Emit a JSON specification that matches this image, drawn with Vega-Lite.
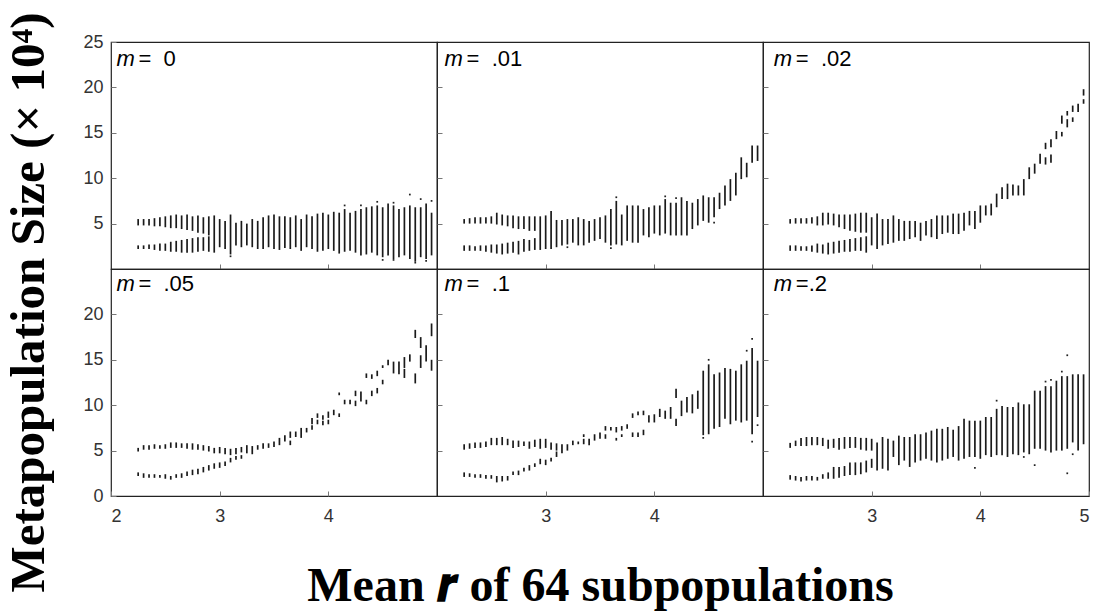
{
  "$schema": "https://vega.github.io/schema/vega-lite/v6.json",
  "background": "white",
  "padding": {"left": 5, "top": 12, "right": 0, "bottom": 0},
  "title": {"text": "Metapopulation Size (× 10⁴)", "orient": "left", "anchor": "middle", "font": "Liberation Serif", "fontSize": 49, "fontWeight": "bold", "color": "black", "offset": 28, "dx": 19},
  "spacing": 0,
  "bounds": "flush",
  "columns": 3,
  "config": {
    "view": {"stroke": "#222", "strokeWidth": 1.2},
    "axis": {"domain": false, "grid": false, "tickSize": -5, "tickColor": "#777", "tickWidth": 1, "labelFont": "Liberation Sans", "labelFontSize": 18, "labelColor": "#333", "labelPadding": 13, "format": "d"},
    "axisX": {"labelPadding": 16},
    "text": {"font": "Liberation Sans", "fontSize": 22, "color": "black"}
  },
  "datasets": {
    "labels": [
      {"m": "0", "lab": "=\u00a0\u00a00"},
      {"m": ".01", "lab": "=\u00a0\u00a0.01"},
      {"m": ".02", "lab": "=\u00a0\u00a0.02"},
      {"m": ".05", "lab": "=\u00a0\u00a0.05"},
      {"m": ".1", "lab": "=\u00a0\u00a0.1"},
      {"m": ".2", "lab": "=.2"}
    ],
    "dots": [
      {"m": "0", "r": 4.45, "lo": 7.4}, {"m": "0", "r": 4.75, "lo": 8.2}, {"m": "0", "r": 4.85, "lo": 7.7}, {"m": "0", "r": 4.95, "lo": 7.5}, {"m": "0", "r": 4.6, "lo": 7.3}, {"m": "0", "r": 4.3, "lo": 7.0}, {"m": "0", "r": 4.8, "lo": 0.7}, {"m": "0", "r": 4.6, "lo": 1.0}, {"m": "0", "r": 4.9, "lo": 0.9}, {"m": "0", "r": 4.15, "lo": 7.0}, {"m": "0", "r": 3.1, "lo": 1.4}, {"m": "0", "r": 4.5, "lo": 1.0},
      {"m": ".01", "r": 3.65, "lo": 7.9}, {"m": ".01", "r": 4.1, "lo": 8.0}, {"m": ".01", "r": 4.2, "lo": 7.8}, {"m": ".01", "r": 4.55, "lo": 5.1}, {"m": ".01", "r": 3.6, "lo": 2.3}, {"m": ".01", "r": 3.2, "lo": 2.4},
      {"m": ".1", "r": 4.9, "lo": 17.3}, {"m": ".1", "r": 4.9, "lo": 6.0}, {"m": ".1", "r": 4.85, "lo": 16.0}, {"m": ".1", "r": 4.5, "lo": 15.0}, {"m": ".1", "r": 4.45, "lo": 6.4}, {"m": ".1", "r": 4.95, "lo": 7.8},
      {"m": ".2", "r": 4.8, "lo": 15.5}, {"m": ".2", "r": 4.8, "lo": 2.5}, {"m": ".2", "r": 4.5, "lo": 3.4}, {"m": ".2", "r": 4.4, "lo": 4.3}, {"m": ".2", "r": 4.6, "lo": 12.6}, {"m": ".2", "r": 4.65, "lo": 12.8}, {"m": ".2", "r": 4.75, "lo": 13.7}, {"m": ".2", "r": 3.95, "lo": 3.1}, {"m": ".2", "r": 4.15, "lo": 10.5}, {"m": ".2", "r": 4.85, "lo": 4.6}
    ],
    "segs": [
      {"m": "0", "r": 2.25, "lo": 4.8, "hi": 5.5}, {"m": "0", "r": 2.25, "lo": 2.2, "hi": 2.6},
      {"m": "0", "r": 2.30, "lo": 4.8, "hi": 5.5}, {"m": "0", "r": 2.30, "lo": 2.2, "hi": 2.6},
      {"m": "0", "r": 2.35, "lo": 4.8, "hi": 5.5}, {"m": "0", "r": 2.35, "lo": 2.2, "hi": 2.7},
      {"m": "0", "r": 2.40, "lo": 4.7, "hi": 5.6}, {"m": "0", "r": 2.40, "lo": 2.1, "hi": 2.7},
      {"m": "0", "r": 2.45, "lo": 4.7, "hi": 5.7}, {"m": "0", "r": 2.45, "lo": 2.0, "hi": 2.8},
      {"m": "0", "r": 2.50, "lo": 4.6, "hi": 5.8}, {"m": "0", "r": 2.50, "lo": 2.0, "hi": 2.8},
      {"m": "0", "r": 2.55, "lo": 4.5, "hi": 5.9}, {"m": "0", "r": 2.55, "lo": 1.9, "hi": 3.0},
      {"m": "0", "r": 2.60, "lo": 4.5, "hi": 6.0}, {"m": "0", "r": 2.60, "lo": 1.9, "hi": 3.1},
      {"m": "0", "r": 2.65, "lo": 4.4, "hi": 5.9}, {"m": "0", "r": 2.65, "lo": 1.8, "hi": 3.2},
      {"m": "0", "r": 2.70, "lo": 4.3, "hi": 6.0}, {"m": "0", "r": 2.70, "lo": 1.8, "hi": 3.3},
      {"m": "0", "r": 2.75, "lo": 4.2, "hi": 5.8}, {"m": "0", "r": 2.75, "lo": 1.8, "hi": 3.4},
      {"m": "0", "r": 2.80, "lo": 4.0, "hi": 5.9}, {"m": "0", "r": 2.80, "lo": 1.9, "hi": 3.5},
      {"m": "0", "r": 2.85, "lo": 3.9, "hi": 5.7}, {"m": "0", "r": 2.85, "lo": 2.0, "hi": 3.5},
      {"m": "0", "r": 2.90, "lo": 3.7, "hi": 5.8}, {"m": "0", "r": 2.90, "lo": 1.9, "hi": 3.6},
      {"m": "0", "r": 2.95, "lo": 1.8, "hi": 5.9}, {"m": "0", "r": 3.00, "lo": 2.4, "hi": 5.5},
      {"m": "0", "r": 3.05, "lo": 2.2, "hi": 5.3}, {"m": "0", "r": 3.10, "lo": 1.6, "hi": 6.0},
      {"m": "0", "r": 3.15, "lo": 2.6, "hi": 5.1}, {"m": "0", "r": 3.20, "lo": 2.4, "hi": 5.3},
      {"m": "0", "r": 3.25, "lo": 2.6, "hi": 5.0}, {"m": "0", "r": 3.30, "lo": 2.4, "hi": 5.5},
      {"m": "0", "r": 3.35, "lo": 2.2, "hi": 5.3}, {"m": "0", "r": 3.40, "lo": 2.2, "hi": 5.7},
      {"m": "0", "r": 3.45, "lo": 2.4, "hi": 5.9}, {"m": "0", "r": 3.50, "lo": 2.2, "hi": 6.0},
      {"m": "0", "r": 3.55, "lo": 2.1, "hi": 5.8}, {"m": "0", "r": 3.60, "lo": 2.3, "hi": 5.8},
      {"m": "0", "r": 3.65, "lo": 2.2, "hi": 5.7}, {"m": "0", "r": 3.70, "lo": 2.4, "hi": 5.9},
      {"m": "0", "r": 3.75, "lo": 2.0, "hi": 5.5}, {"m": "0", "r": 3.80, "lo": 2.4, "hi": 6.0},
      {"m": "0", "r": 3.85, "lo": 2.2, "hi": 5.8}, {"m": "0", "r": 3.90, "lo": 1.9, "hi": 6.1},
      {"m": "0", "r": 3.95, "lo": 2.0, "hi": 6.2}, {"m": "0", "r": 4.00, "lo": 2.2, "hi": 6.0},
      {"m": "0", "r": 4.05, "lo": 2.0, "hi": 6.3}, {"m": "0", "r": 4.10, "lo": 1.7, "hi": 6.2},
      {"m": "0", "r": 4.15, "lo": 1.9, "hi": 6.6}, {"m": "0", "r": 4.20, "lo": 2.0, "hi": 6.2},
      {"m": "0", "r": 4.25, "lo": 1.8, "hi": 6.4}, {"m": "0", "r": 4.30, "lo": 1.5, "hi": 6.6},
      {"m": "0", "r": 4.35, "lo": 1.6, "hi": 6.8}, {"m": "0", "r": 4.40, "lo": 1.8, "hi": 6.9},
      {"m": "0", "r": 4.45, "lo": 1.5, "hi": 7.0}, {"m": "0", "r": 4.50, "lo": 1.3, "hi": 6.8},
      {"m": "0", "r": 4.55, "lo": 1.5, "hi": 7.2}, {"m": "0", "r": 4.60, "lo": 1.1, "hi": 7.0},
      {"m": "0", "r": 4.65, "lo": 1.3, "hi": 6.6}, {"m": "0", "r": 4.70, "lo": 1.5, "hi": 6.8},
      {"m": "0", "r": 4.75, "lo": 1.1, "hi": 7.0}, {"m": "0", "r": 4.80, "lo": 0.8, "hi": 6.8},
      {"m": "0", "r": 4.85, "lo": 1.3, "hi": 6.8}, {"m": "0", "r": 4.90, "lo": 1.1, "hi": 7.2},
      {"m": "0", "r": 4.95, "lo": 1.5, "hi": 6.2},

      {"m": ".01", "r": 2.25, "lo": 5.0, "hi": 5.5}, {"m": ".01", "r": 2.25, "lo": 2.0, "hi": 2.6},
      {"m": ".01", "r": 2.30, "lo": 5.0, "hi": 5.6}, {"m": ".01", "r": 2.30, "lo": 2.0, "hi": 2.6},
      {"m": ".01", "r": 2.35, "lo": 5.0, "hi": 5.7}, {"m": ".01", "r": 2.35, "lo": 2.0, "hi": 2.5},
      {"m": ".01", "r": 2.40, "lo": 5.0, "hi": 5.7}, {"m": ".01", "r": 2.40, "lo": 2.0, "hi": 2.6},
      {"m": ".01", "r": 2.45, "lo": 5.0, "hi": 5.7}, {"m": ".01", "r": 2.45, "lo": 1.9, "hi": 2.6},
      {"m": ".01", "r": 2.50, "lo": 5.0, "hi": 5.8}, {"m": ".01", "r": 2.50, "lo": 1.8, "hi": 2.7},
      {"m": ".01", "r": 2.55, "lo": 4.9, "hi": 6.2}, {"m": ".01", "r": 2.55, "lo": 1.7, "hi": 2.7},
      {"m": ".01", "r": 2.60, "lo": 4.8, "hi": 6.0}, {"m": ".01", "r": 2.60, "lo": 1.6, "hi": 2.8},
      {"m": ".01", "r": 2.65, "lo": 4.7, "hi": 5.9}, {"m": ".01", "r": 2.65, "lo": 1.7, "hi": 2.9},
      {"m": ".01", "r": 2.70, "lo": 4.5, "hi": 5.9}, {"m": ".01", "r": 2.70, "lo": 1.8, "hi": 3.0},
      {"m": ".01", "r": 2.75, "lo": 4.4, "hi": 5.8}, {"m": ".01", "r": 2.75, "lo": 1.6, "hi": 3.1},
      {"m": ".01", "r": 2.80, "lo": 4.4, "hi": 5.8}, {"m": ".01", "r": 2.80, "lo": 1.9, "hi": 3.3},
      {"m": ".01", "r": 2.85, "lo": 4.2, "hi": 5.8}, {"m": ".01", "r": 2.85, "lo": 2.0, "hi": 3.2},
      {"m": ".01", "r": 2.90, "lo": 4.2, "hi": 5.8}, {"m": ".01", "r": 2.90, "lo": 2.1, "hi": 3.4},
      {"m": ".01", "r": 2.95, "lo": 2.1, "hi": 5.8}, {"m": ".01", "r": 3.00, "lo": 2.2, "hi": 5.9},
      {"m": ".01", "r": 3.05, "lo": 2.2, "hi": 6.4}, {"m": ".01", "r": 3.10, "lo": 2.4, "hi": 5.4},
      {"m": ".01", "r": 3.15, "lo": 2.6, "hi": 5.4}, {"m": ".01", "r": 3.20, "lo": 2.7, "hi": 5.5},
      {"m": ".01", "r": 3.25, "lo": 2.9, "hi": 5.5}, {"m": ".01", "r": 3.30, "lo": 2.6, "hi": 5.7},
      {"m": ".01", "r": 3.35, "lo": 2.6, "hi": 5.5}, {"m": ".01", "r": 3.40, "lo": 2.9, "hi": 5.3},
      {"m": ".01", "r": 3.45, "lo": 3.1, "hi": 5.5}, {"m": ".01", "r": 3.50, "lo": 3.3, "hi": 5.7},
      {"m": ".01", "r": 3.55, "lo": 2.9, "hi": 5.9}, {"m": ".01", "r": 3.60, "lo": 2.6, "hi": 6.6},
      {"m": ".01", "r": 3.65, "lo": 2.7, "hi": 7.5}, {"m": ".01", "r": 3.70, "lo": 2.6, "hi": 6.0},
      {"m": ".01", "r": 3.75, "lo": 3.1, "hi": 7.0}, {"m": ".01", "r": 3.80, "lo": 2.9, "hi": 7.0},
      {"m": ".01", "r": 3.85, "lo": 2.9, "hi": 7.0}, {"m": ".01", "r": 3.90, "lo": 3.7, "hi": 6.6},
      {"m": ".01", "r": 3.95, "lo": 3.5, "hi": 6.8}, {"m": ".01", "r": 4.00, "lo": 3.9, "hi": 7.0},
      {"m": ".01", "r": 4.05, "lo": 3.7, "hi": 7.0}, {"m": ".01", "r": 4.10, "lo": 3.9, "hi": 7.7},
      {"m": ".01", "r": 4.15, "lo": 3.7, "hi": 7.3}, {"m": ".01", "r": 4.20, "lo": 3.7, "hi": 7.3},
      {"m": ".01", "r": 4.25, "lo": 3.7, "hi": 7.9}, {"m": ".01", "r": 4.30, "lo": 3.7, "hi": 7.5},
      {"m": ".01", "r": 4.35, "lo": 4.4, "hi": 7.3}, {"m": ".01", "r": 4.40, "lo": 4.8, "hi": 7.7},
      {"m": ".01", "r": 4.45, "lo": 5.3, "hi": 8.1}, {"m": ".01", "r": 4.50, "lo": 5.1, "hi": 7.9},
      {"m": ".01", "r": 4.55, "lo": 5.7, "hi": 7.9}, {"m": ".01", "r": 4.60, "lo": 6.6, "hi": 8.4},
      {"m": ".01", "r": 4.65, "lo": 7.0, "hi": 9.2}, {"m": ".01", "r": 4.70, "lo": 7.5, "hi": 9.9},
      {"m": ".01", "r": 4.75, "lo": 8.1, "hi": 10.6}, {"m": ".01", "r": 4.80, "lo": 9.9, "hi": 12.3},
      {"m": ".01", "r": 4.85, "lo": 10.1, "hi": 11.7}, {"m": ".01", "r": 4.90, "lo": 11.7, "hi": 13.6},
      {"m": ".01", "r": 4.95, "lo": 11.9, "hi": 13.6},

      {"m": ".02", "r": 2.25, "lo": 5.0, "hi": 5.5}, {"m": ".02", "r": 2.25, "lo": 2.0, "hi": 2.6},
      {"m": ".02", "r": 2.30, "lo": 5.0, "hi": 5.6}, {"m": ".02", "r": 2.30, "lo": 2.0, "hi": 2.6},
      {"m": ".02", "r": 2.35, "lo": 5.0, "hi": 5.6}, {"m": ".02", "r": 2.35, "lo": 2.0, "hi": 2.5},
      {"m": ".02", "r": 2.40, "lo": 5.0, "hi": 5.6}, {"m": ".02", "r": 2.40, "lo": 2.0, "hi": 2.5},
      {"m": ".02", "r": 2.45, "lo": 5.0, "hi": 5.7}, {"m": ".02", "r": 2.45, "lo": 1.9, "hi": 2.6},
      {"m": ".02", "r": 2.50, "lo": 4.8, "hi": 5.8}, {"m": ".02", "r": 2.50, "lo": 1.8, "hi": 2.8},
      {"m": ".02", "r": 2.55, "lo": 4.8, "hi": 6.2}, {"m": ".02", "r": 2.55, "lo": 1.7, "hi": 2.7},
      {"m": ".02", "r": 2.60, "lo": 4.9, "hi": 6.2}, {"m": ".02", "r": 2.60, "lo": 1.6, "hi": 2.9},
      {"m": ".02", "r": 2.65, "lo": 4.8, "hi": 6.1}, {"m": ".02", "r": 2.65, "lo": 1.7, "hi": 3.0},
      {"m": ".02", "r": 2.70, "lo": 4.6, "hi": 6.0}, {"m": ".02", "r": 2.70, "lo": 1.8, "hi": 3.1},
      {"m": ".02", "r": 2.75, "lo": 4.4, "hi": 6.0}, {"m": ".02", "r": 2.75, "lo": 1.9, "hi": 3.2},
      {"m": ".02", "r": 2.80, "lo": 4.2, "hi": 6.0}, {"m": ".02", "r": 2.80, "lo": 1.9, "hi": 3.3},
      {"m": ".02", "r": 2.85, "lo": 4.1, "hi": 6.1}, {"m": ".02", "r": 2.85, "lo": 2.0, "hi": 3.4},
      {"m": ".02", "r": 2.90, "lo": 4.0, "hi": 6.2}, {"m": ".02", "r": 2.90, "lo": 2.0, "hi": 3.5},
      {"m": ".02", "r": 2.95, "lo": 4.0, "hi": 6.2}, {"m": ".02", "r": 2.95, "lo": 1.8, "hi": 3.6},
      {"m": ".02", "r": 3.00, "lo": 2.6, "hi": 5.7}, {"m": ".02", "r": 3.05, "lo": 2.2, "hi": 6.1},
      {"m": ".02", "r": 3.10, "lo": 2.6, "hi": 5.5}, {"m": ".02", "r": 3.15, "lo": 2.75, "hi": 5.5},
      {"m": ".02", "r": 3.20, "lo": 2.9, "hi": 5.9}, {"m": ".02", "r": 3.25, "lo": 3.1, "hi": 5.5},
      {"m": ".02", "r": 3.30, "lo": 3.1, "hi": 5.3}, {"m": ".02", "r": 3.35, "lo": 3.3, "hi": 5.3},
      {"m": ".02", "r": 3.40, "lo": 3.5, "hi": 5.3}, {"m": ".02", "r": 3.45, "lo": 3.1, "hi": 5.1},
      {"m": ".02", "r": 3.50, "lo": 3.7, "hi": 5.3}, {"m": ".02", "r": 3.55, "lo": 3.5, "hi": 5.5},
      {"m": ".02", "r": 3.60, "lo": 3.3, "hi": 5.9}, {"m": ".02", "r": 3.65, "lo": 3.85, "hi": 5.9},
      {"m": ".02", "r": 3.70, "lo": 4.0, "hi": 5.9}, {"m": ".02", "r": 3.75, "lo": 3.85, "hi": 6.1},
      {"m": ".02", "r": 3.80, "lo": 3.85, "hi": 6.1}, {"m": ".02", "r": 3.85, "lo": 4.2, "hi": 6.2},
      {"m": ".02", "r": 3.90, "lo": 4.8, "hi": 6.4}, {"m": ".02", "r": 3.95, "lo": 4.4, "hi": 6.4},
      {"m": ".02", "r": 4.00, "lo": 5.1, "hi": 7.0}, {"m": ".02", "r": 4.05, "lo": 5.9, "hi": 7.0},
      {"m": ".02", "r": 4.10, "lo": 5.9, "hi": 7.2}, {"m": ".02", "r": 4.15, "lo": 6.8, "hi": 8.3},
      {"m": ".02", "r": 4.20, "lo": 7.7, "hi": 9.0}, {"m": ".02", "r": 4.25, "lo": 7.7, "hi": 9.4},
      {"m": ".02", "r": 4.30, "lo": 8.1, "hi": 9.3}, {"m": ".02", "r": 4.35, "lo": 8.1, "hi": 9.2},
      {"m": ".02", "r": 4.40, "lo": 8.1, "hi": 9.9}, {"m": ".02", "r": 4.45, "lo": 9.9, "hi": 11.2},
      {"m": ".02", "r": 4.50, "lo": 10.5, "hi": 11.6}, {"m": ".02", "r": 4.55, "lo": 11.6, "hi": 12.7},
      {"m": ".02", "r": 4.60, "lo": 13.2, "hi": 13.9}, {"m": ".02", "r": 4.60, "lo": 11.5, "hi": 12.3},
      {"m": ".02", "r": 4.65, "lo": 13.4, "hi": 14.3}, {"m": ".02", "r": 4.65, "lo": 11.7, "hi": 12.6},
      {"m": ".02", "r": 4.70, "lo": 14.3, "hi": 15.2},
      {"m": ".02", "r": 4.75, "lo": 16.0, "hi": 16.9}, {"m": ".02", "r": 4.75, "lo": 14.6, "hi": 15.1},
      {"m": ".02", "r": 4.80, "lo": 16.9, "hi": 17.4}, {"m": ".02", "r": 4.80, "lo": 15.6, "hi": 16.5},
      {"m": ".02", "r": 4.85, "lo": 17.3, "hi": 18.0}, {"m": ".02", "r": 4.85, "lo": 16.2, "hi": 16.7},
      {"m": ".02", "r": 4.90, "lo": 17.3, "hi": 18.2},
      {"m": ".02", "r": 4.95, "lo": 19.1, "hi": 19.8}, {"m": ".02", "r": 4.95, "lo": 18.2, "hi": 18.7},

      {"m": ".05", "r": 2.25, "lo": 4.9, "hi": 5.3}, {"m": ".05", "r": 2.25, "lo": 2.2, "hi": 2.6},
      {"m": ".05", "r": 2.30, "lo": 5.1, "hi": 5.6}, {"m": ".05", "r": 2.30, "lo": 2.0, "hi": 2.5},
      {"m": ".05", "r": 2.35, "lo": 5.1, "hi": 5.6}, {"m": ".05", "r": 2.35, "lo": 2.0, "hi": 2.4},
      {"m": ".05", "r": 2.40, "lo": 5.2, "hi": 5.7}, {"m": ".05", "r": 2.40, "lo": 2.0, "hi": 2.4},
      {"m": ".05", "r": 2.45, "lo": 5.2, "hi": 5.6}, {"m": ".05", "r": 2.45, "lo": 2.0, "hi": 2.3},
      {"m": ".05", "r": 2.50, "lo": 5.2, "hi": 5.7}, {"m": ".05", "r": 2.50, "lo": 1.9, "hi": 2.4},
      {"m": ".05", "r": 2.55, "lo": 5.3, "hi": 5.9}, {"m": ".05", "r": 2.55, "lo": 1.8, "hi": 2.2},
      {"m": ".05", "r": 2.60, "lo": 5.3, "hi": 5.9}, {"m": ".05", "r": 2.60, "lo": 2.0, "hi": 2.4},
      {"m": ".05", "r": 2.65, "lo": 5.3, "hi": 5.8}, {"m": ".05", "r": 2.65, "lo": 2.0, "hi": 2.5},
      {"m": ".05", "r": 2.70, "lo": 5.2, "hi": 5.8}, {"m": ".05", "r": 2.70, "lo": 2.2, "hi": 2.7},
      {"m": ".05", "r": 2.75, "lo": 5.1, "hi": 5.8}, {"m": ".05", "r": 2.75, "lo": 2.3, "hi": 2.9},
      {"m": ".05", "r": 2.80, "lo": 5.1, "hi": 5.7}, {"m": ".05", "r": 2.80, "lo": 2.4, "hi": 3.0},
      {"m": ".05", "r": 2.85, "lo": 5.0, "hi": 5.6}, {"m": ".05", "r": 2.85, "lo": 2.6, "hi": 3.2},
      {"m": ".05", "r": 2.90, "lo": 4.9, "hi": 5.5}, {"m": ".05", "r": 2.90, "lo": 2.8, "hi": 3.4},
      {"m": ".05", "r": 2.95, "lo": 4.7, "hi": 5.3}, {"m": ".05", "r": 2.95, "lo": 3.0, "hi": 3.6},
      {"m": ".05", "r": 3.00, "lo": 4.7, "hi": 5.4}, {"m": ".05", "r": 3.00, "lo": 3.1, "hi": 3.7},
      {"m": ".05", "r": 3.05, "lo": 4.6, "hi": 5.3}, {"m": ".05", "r": 3.05, "lo": 3.3, "hi": 3.8},
      {"m": ".05", "r": 3.10, "lo": 4.5, "hi": 5.2}, {"m": ".05", "r": 3.10, "lo": 3.7, "hi": 4.2},
      {"m": ".05", "r": 3.15, "lo": 4.6, "hi": 5.3}, {"m": ".05", "r": 3.15, "lo": 4.0, "hi": 4.4},
      {"m": ".05", "r": 3.20, "lo": 4.8, "hi": 5.4}, {"m": ".05", "r": 3.20, "lo": 4.1, "hi": 4.5},
      {"m": ".05", "r": 3.25, "lo": 4.7, "hi": 5.6}, {"m": ".05", "r": 3.30, "lo": 4.6, "hi": 5.5},
      {"m": ".05", "r": 3.35, "lo": 5.1, "hi": 5.6}, {"m": ".05", "r": 3.40, "lo": 5.2, "hi": 5.8},
      {"m": ".05", "r": 3.45, "lo": 5.3, "hi": 5.8}, {"m": ".05", "r": 3.50, "lo": 5.4, "hi": 6.0},
      {"m": ".05", "r": 3.55, "lo": 5.6, "hi": 6.4}, {"m": ".05", "r": 3.60, "lo": 6.0, "hi": 6.7},
      {"m": ".05", "r": 3.65, "lo": 6.4, "hi": 7.1}, {"m": ".05", "r": 3.65, "lo": 5.6, "hi": 6.1},
      {"m": ".05", "r": 3.70, "lo": 6.5, "hi": 7.1}, {"m": ".05", "r": 3.75, "lo": 6.4, "hi": 7.5},
      {"m": ".05", "r": 3.80, "lo": 7.0, "hi": 7.5},
      {"m": ".05", "r": 3.85, "lo": 7.9, "hi": 8.6}, {"m": ".05", "r": 3.85, "lo": 7.3, "hi": 7.8},
      {"m": ".05", "r": 3.90, "lo": 8.6, "hi": 9.1}, {"m": ".05", "r": 3.90, "lo": 7.9, "hi": 8.4},
      {"m": ".05", "r": 3.95, "lo": 8.4, "hi": 8.9}, {"m": ".05", "r": 3.95, "lo": 7.8, "hi": 8.3},
      {"m": ".05", "r": 4.00, "lo": 8.6, "hi": 9.3}, {"m": ".05", "r": 4.00, "lo": 7.9, "hi": 8.4},
      {"m": ".05", "r": 4.05, "lo": 8.9, "hi": 9.5},
      {"m": ".05", "r": 4.10, "lo": 11.1, "hi": 11.4}, {"m": ".05", "r": 4.10, "lo": 8.7, "hi": 9.1},
      {"m": ".05", "r": 4.15, "lo": 10.1, "hi": 10.6}, {"m": ".05", "r": 4.20, "lo": 10.1, "hi": 10.6},
      {"m": ".05", "r": 4.25, "lo": 11.0, "hi": 11.6}, {"m": ".05", "r": 4.25, "lo": 9.9, "hi": 10.5},
      {"m": ".05", "r": 4.30, "lo": 10.4, "hi": 11.5},
      {"m": ".05", "r": 4.35, "lo": 13.0, "hi": 13.5}, {"m": ".05", "r": 4.35, "lo": 10.1, "hi": 10.6},
      {"m": ".05", "r": 4.40, "lo": 12.9, "hi": 13.4}, {"m": ".05", "r": 4.40, "lo": 11.0, "hi": 11.6},
      {"m": ".05", "r": 4.45, "lo": 13.2, "hi": 13.8}, {"m": ".05", "r": 4.45, "lo": 11.3, "hi": 11.9},
      {"m": ".05", "r": 4.50, "lo": 14.1, "hi": 14.4}, {"m": ".05", "r": 4.50, "lo": 12.3, "hi": 12.8},
      {"m": ".05", "r": 4.55, "lo": 14.4, "hi": 15.0}, {"m": ".05", "r": 4.60, "lo": 13.5, "hi": 14.8},
      {"m": ".05", "r": 4.65, "lo": 13.4, "hi": 14.8},
      {"m": ".05", "r": 4.70, "lo": 14.1, "hi": 15.3}, {"m": ".05", "r": 4.70, "lo": 13.0, "hi": 14.0},
      {"m": ".05", "r": 4.75, "lo": 14.8, "hi": 15.6},
      {"m": ".05", "r": 4.80, "lo": 17.4, "hi": 18.3}, {"m": ".05", "r": 4.80, "lo": 12.4, "hi": 13.5},
      {"m": ".05", "r": 4.85, "lo": 16.3, "hi": 17.5}, {"m": ".05", "r": 4.85, "lo": 14.1, "hi": 15.5},
      {"m": ".05", "r": 4.90, "lo": 14.8, "hi": 16.6},
      {"m": ".05", "r": 4.95, "lo": 17.6, "hi": 19.0}, {"m": ".05", "r": 4.95, "lo": 13.8, "hi": 15.0},

      {"m": ".1", "r": 2.25, "lo": 5.1, "hi": 5.7}, {"m": ".1", "r": 2.25, "lo": 2.1, "hi": 2.6},
      {"m": ".1", "r": 2.30, "lo": 5.2, "hi": 5.8}, {"m": ".1", "r": 2.30, "lo": 2.1, "hi": 2.5},
      {"m": ".1", "r": 2.35, "lo": 5.3, "hi": 5.9}, {"m": ".1", "r": 2.35, "lo": 2.0, "hi": 2.4},
      {"m": ".1", "r": 2.40, "lo": 5.3, "hi": 5.9}, {"m": ".1", "r": 2.40, "lo": 2.0, "hi": 2.4},
      {"m": ".1", "r": 2.45, "lo": 5.4, "hi": 6.0}, {"m": ".1", "r": 2.45, "lo": 1.9, "hi": 2.3},
      {"m": ".1", "r": 2.50, "lo": 5.6, "hi": 6.4}, {"m": ".1", "r": 2.50, "lo": 1.9, "hi": 2.3},
      {"m": ".1", "r": 2.55, "lo": 5.6, "hi": 6.4}, {"m": ".1", "r": 2.55, "lo": 1.5, "hi": 2.2},
      {"m": ".1", "r": 2.60, "lo": 5.6, "hi": 6.5}, {"m": ".1", "r": 2.60, "lo": 1.6, "hi": 2.2},
      {"m": ".1", "r": 2.65, "lo": 5.6, "hi": 6.3}, {"m": ".1", "r": 2.65, "lo": 1.7, "hi": 2.2},
      {"m": ".1", "r": 2.70, "lo": 5.3, "hi": 6.1}, {"m": ".1", "r": 2.70, "lo": 2.3, "hi": 2.7},
      {"m": ".1", "r": 2.75, "lo": 5.4, "hi": 6.1}, {"m": ".1", "r": 2.75, "lo": 2.3, "hi": 2.8},
      {"m": ".1", "r": 2.80, "lo": 5.5, "hi": 6.0}, {"m": ".1", "r": 2.80, "lo": 2.7, "hi": 3.1},
      {"m": ".1", "r": 2.85, "lo": 5.2, "hi": 6.0}, {"m": ".1", "r": 2.85, "lo": 2.8, "hi": 3.4},
      {"m": ".1", "r": 2.90, "lo": 5.4, "hi": 6.2}, {"m": ".1", "r": 2.90, "lo": 3.2, "hi": 3.6},
      {"m": ".1", "r": 2.95, "lo": 5.2, "hi": 6.3}, {"m": ".1", "r": 2.95, "lo": 3.5, "hi": 4.1},
      {"m": ".1", "r": 3.00, "lo": 5.3, "hi": 6.3}, {"m": ".1", "r": 3.00, "lo": 3.4, "hi": 4.0},
      {"m": ".1", "r": 3.05, "lo": 5.1, "hi": 5.9}, {"m": ".1", "r": 3.05, "lo": 3.8, "hi": 4.2},
      {"m": ".1", "r": 3.10, "lo": 5.0, "hi": 5.8}, {"m": ".1", "r": 3.10, "lo": 4.3, "hi": 4.9},
      {"m": ".1", "r": 3.15, "lo": 4.7, "hi": 5.7}, {"m": ".1", "r": 3.20, "lo": 5.0, "hi": 5.7},
      {"m": ".1", "r": 3.25, "lo": 5.6, "hi": 6.1}, {"m": ".1", "r": 3.30, "lo": 5.7, "hi": 6.0},
      {"m": ".1", "r": 3.35, "lo": 5.7, "hi": 6.3}, {"m": ".1", "r": 3.35, "lo": 6.5, "hi": 6.8},
      {"m": ".1", "r": 3.40, "lo": 5.6, "hi": 6.3}, {"m": ".1", "r": 3.45, "lo": 6.1, "hi": 6.8},
      {"m": ".1", "r": 3.50, "lo": 6.3, "hi": 7.0},
      {"m": ".1", "r": 3.55, "lo": 7.2, "hi": 7.7}, {"m": ".1", "r": 3.55, "lo": 6.3, "hi": 6.8},
      {"m": ".1", "r": 3.60, "lo": 7.2, "hi": 7.6},
      {"m": ".1", "r": 3.65, "lo": 7.0, "hi": 7.6}, {"m": ".1", "r": 3.65, "lo": 6.1, "hi": 6.4},
      {"m": ".1", "r": 3.70, "lo": 7.2, "hi": 7.7}, {"m": ".1", "r": 3.70, "lo": 6.5, "hi": 6.8},
      {"m": ".1", "r": 3.75, "lo": 7.4, "hi": 7.9},
      {"m": ".1", "r": 3.80, "lo": 8.6, "hi": 9.1}, {"m": ".1", "r": 3.80, "lo": 6.5, "hi": 7.0},
      {"m": ".1", "r": 3.85, "lo": 8.9, "hi": 9.3}, {"m": ".1", "r": 3.85, "lo": 6.5, "hi": 7.0},
      {"m": ".1", "r": 3.90, "lo": 8.9, "hi": 9.4}, {"m": ".1", "r": 3.90, "lo": 6.7, "hi": 7.3},
      {"m": ".1", "r": 3.95, "lo": 8.1, "hi": 8.9}, {"m": ".1", "r": 4.00, "lo": 8.1, "hi": 9.0},
      {"m": ".1", "r": 4.05, "lo": 8.7, "hi": 9.6}, {"m": ".1", "r": 4.10, "lo": 8.5, "hi": 9.4},
      {"m": ".1", "r": 4.15, "lo": 8.5, "hi": 9.8},
      {"m": ".1", "r": 4.20, "lo": 10.8, "hi": 11.8}, {"m": ".1", "r": 4.20, "lo": 7.7, "hi": 8.5},
      {"m": ".1", "r": 4.25, "lo": 8.8, "hi": 10.5}, {"m": ".1", "r": 4.30, "lo": 9.2, "hi": 10.9},
      {"m": ".1", "r": 4.35, "lo": 9.1, "hi": 11.2}, {"m": ".1", "r": 4.40, "lo": 9.6, "hi": 11.6},
      {"m": ".1", "r": 4.45, "lo": 6.7, "hi": 13.8}, {"m": ".1", "r": 4.50, "lo": 6.8, "hi": 14.5},
      {"m": ".1", "r": 4.55, "lo": 7.4, "hi": 13.4}, {"m": ".1", "r": 4.60, "lo": 7.6, "hi": 13.6},
      {"m": ".1", "r": 4.65, "lo": 8.5, "hi": 14.1}, {"m": ".1", "r": 4.70, "lo": 7.9, "hi": 14.0},
      {"m": ".1", "r": 4.75, "lo": 8.3, "hi": 13.8}, {"m": ".1", "r": 4.80, "lo": 8.1, "hi": 14.5},
      {"m": ".1", "r": 4.85, "lo": 8.3, "hi": 14.9}, {"m": ".1", "r": 4.90, "lo": 6.8, "hi": 16.3},
      {"m": ".1", "r": 4.95, "lo": 8.7, "hi": 14.9},

      {"m": ".2", "r": 2.25, "lo": 5.3, "hi": 5.85}, {"m": ".2", "r": 2.25, "lo": 1.8, "hi": 2.3},
      {"m": ".2", "r": 2.30, "lo": 5.5, "hi": 6.1}, {"m": ".2", "r": 2.30, "lo": 1.7, "hi": 2.2},
      {"m": ".2", "r": 2.35, "lo": 5.5, "hi": 6.4}, {"m": ".2", "r": 2.35, "lo": 1.6, "hi": 2.1},
      {"m": ".2", "r": 2.40, "lo": 5.5, "hi": 6.5}, {"m": ".2", "r": 2.40, "lo": 1.7, "hi": 2.2},
      {"m": ".2", "r": 2.45, "lo": 5.6, "hi": 6.5}, {"m": ".2", "r": 2.45, "lo": 1.7, "hi": 2.2},
      {"m": ".2", "r": 2.50, "lo": 5.6, "hi": 6.5}, {"m": ".2", "r": 2.50, "lo": 1.7, "hi": 2.1},
      {"m": ".2", "r": 2.55, "lo": 5.5, "hi": 6.4}, {"m": ".2", "r": 2.55, "lo": 1.9, "hi": 2.4},
      {"m": ".2", "r": 2.60, "lo": 5.2, "hi": 6.2}, {"m": ".2", "r": 2.60, "lo": 1.9, "hi": 2.6},
      {"m": ".2", "r": 2.65, "lo": 5.3, "hi": 6.3}, {"m": ".2", "r": 2.65, "lo": 1.9, "hi": 3.2},
      {"m": ".2", "r": 2.70, "lo": 5.1, "hi": 6.4}, {"m": ".2", "r": 2.70, "lo": 2.0, "hi": 3.2},
      {"m": ".2", "r": 2.75, "lo": 5.2, "hi": 6.5}, {"m": ".2", "r": 2.75, "lo": 2.2, "hi": 3.3},
      {"m": ".2", "r": 2.80, "lo": 5.3, "hi": 6.5}, {"m": ".2", "r": 2.80, "lo": 2.3, "hi": 3.7},
      {"m": ".2", "r": 2.85, "lo": 5.3, "hi": 6.5}, {"m": ".2", "r": 2.85, "lo": 2.3, "hi": 3.7},
      {"m": ".2", "r": 2.90, "lo": 5.1, "hi": 6.4}, {"m": ".2", "r": 2.90, "lo": 2.4, "hi": 3.7},
      {"m": ".2", "r": 2.95, "lo": 5.0, "hi": 6.4}, {"m": ".2", "r": 2.95, "lo": 2.6, "hi": 3.9},
      {"m": ".2", "r": 3.00, "lo": 5.0, "hi": 6.3}, {"m": ".2", "r": 3.00, "lo": 3.1, "hi": 4.1},
      {"m": ".2", "r": 3.05, "lo": 2.8, "hi": 5.9}, {"m": ".2", "r": 3.10, "lo": 3.0, "hi": 6.5},
      {"m": ".2", "r": 3.15, "lo": 2.8, "hi": 6.3}, {"m": ".2", "r": 3.20, "lo": 4.3, "hi": 6.1},
      {"m": ".2", "r": 3.25, "lo": 3.4, "hi": 6.65}, {"m": ".2", "r": 3.30, "lo": 3.9, "hi": 6.5},
      {"m": ".2", "r": 3.35, "lo": 3.2, "hi": 6.5}, {"m": ".2", "r": 3.40, "lo": 3.7, "hi": 6.8},
      {"m": ".2", "r": 3.45, "lo": 3.9, "hi": 6.8}, {"m": ".2", "r": 3.50, "lo": 4.1, "hi": 7.0},
      {"m": ".2", "r": 3.55, "lo": 3.9, "hi": 7.2}, {"m": ".2", "r": 3.60, "lo": 3.7, "hi": 7.4},
      {"m": ".2", "r": 3.65, "lo": 3.9, "hi": 7.4}, {"m": ".2", "r": 3.70, "lo": 4.1, "hi": 7.6},
      {"m": ".2", "r": 3.75, "lo": 4.3, "hi": 7.3}, {"m": ".2", "r": 3.80, "lo": 3.9, "hi": 7.7},
      {"m": ".2", "r": 3.85, "lo": 4.1, "hi": 8.5}, {"m": ".2", "r": 3.90, "lo": 4.3, "hi": 8.3},
      {"m": ".2", "r": 3.95, "lo": 4.3, "hi": 8.3}, {"m": ".2", "r": 4.00, "lo": 4.1, "hi": 8.3},
      {"m": ".2", "r": 4.05, "lo": 4.5, "hi": 8.7}, {"m": ".2", "r": 4.10, "lo": 4.3, "hi": 8.7},
      {"m": ".2", "r": 4.15, "lo": 4.5, "hi": 9.6}, {"m": ".2", "r": 4.20, "lo": 4.5, "hi": 9.9},
      {"m": ".2", "r": 4.25, "lo": 4.3, "hi": 9.8}, {"m": ".2", "r": 4.30, "lo": 4.6, "hi": 9.8},
      {"m": ".2", "r": 4.35, "lo": 4.5, "hi": 10.3}, {"m": ".2", "r": 4.40, "lo": 4.8, "hi": 10.1},
      {"m": ".2", "r": 4.45, "lo": 4.6, "hi": 10.1}, {"m": ".2", "r": 4.50, "lo": 5.2, "hi": 11.6},
      {"m": ".2", "r": 4.55, "lo": 5.2, "hi": 11.6}, {"m": ".2", "r": 4.60, "lo": 5.0, "hi": 12.1},
      {"m": ".2", "r": 4.65, "lo": 4.8, "hi": 12.1}, {"m": ".2", "r": 4.70, "lo": 5.0, "hi": 12.7},
      {"m": ".2", "r": 4.75, "lo": 5.0, "hi": 13.2}, {"m": ".2", "r": 4.80, "lo": 5.2, "hi": 13.2},
      {"m": ".2", "r": 4.85, "lo": 5.9, "hi": 13.4}, {"m": ".2", "r": 4.90, "lo": 5.0, "hi": 13.4},
      {"m": ".2", "r": 4.95, "lo": 5.7, "hi": 13.4}
    ]
  },
  "concat": [
    {
      "width": 326, "height": 227,
      "layer": [
        {"data": {"name": "segs"}, "transform": [{"filter": "datum.m === '0'"}],
         "mark": {"type": "rule", "color": "#1a1a1a", "strokeWidth": 1.7},
         "encoding": {
           "x": {"field": "r", "type": "quantitative", "scale": {"domain": [2, 5], "nice": false, "zero": false}, "axis": {"values": [3, 4], "labels": false, "title": null}},
           "y": {"field": "lo", "type": "quantitative", "scale": {"domain": [0, 25], "nice": false, "zero": false}, "axis": {"values": [5, 10, 15, 20, 25], "title": null}},
           "y2": {"field": "hi"}}},
        {"data": {"name": "dots"}, "transform": [{"filter": "datum.m === '0'"}],
         "mark": {"type": "square", "size": 3, "color": "#222", "opacity": 1},
         "encoding": {"x": {"field": "r", "type": "quantitative"}, "y": {"field": "lo", "type": "quantitative"}}},
        {"data": {"name": "labels"}, "transform": [{"filter": "datum.m === '0'"}],
         "mark": {"type": "text", "align": "left", "baseline": "alphabetic", "fontStyle": "italic", "text": "m"},
         "encoding": {"x": {"datum": 2.05}, "y": {"datum": 22.4}}},
        {"data": {"name": "labels"}, "transform": [{"filter": "datum.m === '0'"}],
         "mark": {"type": "text", "align": "left", "baseline": "alphabetic", "dx": 22},
         "encoding": {"x": {"datum": 2.05}, "y": {"datum": 22.4}, "text": {"field": "lab"}}}
      ]
    },
    {
      "width": 326, "height": 227,
      "layer": [
        {"data": {"name": "segs"}, "transform": [{"filter": "datum.m === '.01'"}],
         "mark": {"type": "rule", "color": "#1a1a1a", "strokeWidth": 1.7},
         "encoding": {
           "x": {"field": "r", "type": "quantitative", "scale": {"domain": [2, 5], "nice": false, "zero": false}, "axis": {"values": [3, 4], "labels": false, "title": null}},
           "y": {"field": "lo", "type": "quantitative", "scale": {"domain": [0, 25], "nice": false, "zero": false}, "axis": {"values": [5, 10, 15, 20], "labels": false, "title": null}},
           "y2": {"field": "hi"}}},
        {"data": {"name": "dots"}, "transform": [{"filter": "datum.m === '.01'"}],
         "mark": {"type": "square", "size": 3, "color": "#222", "opacity": 1},
         "encoding": {"x": {"field": "r", "type": "quantitative"}, "y": {"field": "lo", "type": "quantitative"}}},
        {"data": {"name": "labels"}, "transform": [{"filter": "datum.m === '.01'"}],
         "mark": {"type": "text", "align": "left", "baseline": "alphabetic", "fontStyle": "italic", "text": "m"},
         "encoding": {"x": {"datum": 2.07}, "y": {"datum": 22.4}}},
        {"data": {"name": "labels"}, "transform": [{"filter": "datum.m === '.01'"}],
         "mark": {"type": "text", "align": "left", "baseline": "alphabetic", "dx": 22},
         "encoding": {"x": {"datum": 2.07}, "y": {"datum": 22.4}, "text": {"field": "lab"}}}
      ]
    },
    {
      "width": 326, "height": 227,
      "layer": [
        {"data": {"name": "segs"}, "transform": [{"filter": "datum.m === '.02'"}],
         "mark": {"type": "rule", "color": "#1a1a1a", "strokeWidth": 1.7},
         "encoding": {
           "x": {"field": "r", "type": "quantitative", "scale": {"domain": [2, 5], "nice": false, "zero": false}, "axis": {"values": [3, 4], "labels": false, "title": null}},
           "y": {"field": "lo", "type": "quantitative", "scale": {"domain": [0, 25], "nice": false, "zero": false}, "axis": {"values": [5, 10, 15, 20], "labels": false, "title": null}},
           "y2": {"field": "hi"}}},
        {"data": {"name": "labels"}, "transform": [{"filter": "datum.m === '.02'"}],
         "mark": {"type": "text", "align": "left", "baseline": "alphabetic", "fontStyle": "italic", "text": "m"},
         "encoding": {"x": {"datum": 2.1}, "y": {"datum": 22.4}}},
        {"data": {"name": "labels"}, "transform": [{"filter": "datum.m === '.02'"}],
         "mark": {"type": "text", "align": "left", "baseline": "alphabetic", "dx": 22},
         "encoding": {"x": {"datum": 2.1}, "y": {"datum": 22.4}, "text": {"field": "lab"}}}
      ]
    },
    {
      "width": 326, "height": 227,
      "layer": [
        {"data": {"name": "segs"}, "transform": [{"filter": "datum.m === '.05'"}],
         "mark": {"type": "rule", "color": "#1a1a1a", "strokeWidth": 1.7},
         "encoding": {
           "x": {"field": "r", "type": "quantitative", "scale": {"domain": [2, 5], "nice": false, "zero": false}, "axis": {"values": [2, 3, 4], "title": null}},
           "y": {"field": "lo", "type": "quantitative", "scale": {"domain": [0, 25], "nice": false, "zero": false}, "axis": {"values": [0, 5, 10, 15, 20], "title": null}},
           "y2": {"field": "hi"}}},
        {"data": {"name": "labels"}, "transform": [{"filter": "datum.m === '.05'"}],
         "mark": {"type": "text", "align": "left", "baseline": "alphabetic", "fontStyle": "italic", "text": "m"},
         "encoding": {"x": {"datum": 2.05}, "y": {"datum": 22.6}}},
        {"data": {"name": "labels"}, "transform": [{"filter": "datum.m === '.05'"}],
         "mark": {"type": "text", "align": "left", "baseline": "alphabetic", "dx": 22},
         "encoding": {"x": {"datum": 2.05}, "y": {"datum": 22.6}, "text": {"field": "lab"}}}
      ]
    },
    {
      "width": 326, "height": 227,
      "layer": [
        {"data": {"name": "segs"}, "transform": [{"filter": "datum.m === '.1'"}],
         "mark": {"type": "rule", "color": "#1a1a1a", "strokeWidth": 1.7},
         "encoding": {
           "x": {"field": "r", "type": "quantitative", "scale": {"domain": [2, 5], "nice": false, "zero": false}, "axis": {"values": [3, 4], "title": "Mean 𝒓 of 64 subpopulations", "titleFont": "Liberation Serif", "titleFontSize": 48, "titleFontWeight": "bold", "titleColor": "black", "titlePadding": 37}},
           "y": {"field": "lo", "type": "quantitative", "scale": {"domain": [0, 25], "nice": false, "zero": false}, "axis": {"values": [5, 10, 15, 20], "labels": false, "title": null}},
           "y2": {"field": "hi"}}},
        {"data": {"name": "dots"}, "transform": [{"filter": "datum.m === '.1'"}],
         "mark": {"type": "square", "size": 3, "color": "#222", "opacity": 1},
         "encoding": {"x": {"field": "r", "type": "quantitative"}, "y": {"field": "lo", "type": "quantitative"}}},
        {"data": {"name": "labels"}, "transform": [{"filter": "datum.m === '.1'"}],
         "mark": {"type": "text", "align": "left", "baseline": "alphabetic", "fontStyle": "italic", "text": "m"},
         "encoding": {"x": {"datum": 2.07}, "y": {"datum": 22.6}}},
        {"data": {"name": "labels"}, "transform": [{"filter": "datum.m === '.1'"}],
         "mark": {"type": "text", "align": "left", "baseline": "alphabetic", "dx": 22},
         "encoding": {"x": {"datum": 2.07}, "y": {"datum": 22.6}, "text": {"field": "lab"}}}
      ]
    },
    {
      "width": 326, "height": 227,
      "layer": [
        {"data": {"name": "segs"}, "transform": [{"filter": "datum.m === '.2'"}],
         "mark": {"type": "rule", "color": "#1a1a1a", "strokeWidth": 1.7},
         "encoding": {
           "x": {"field": "r", "type": "quantitative", "scale": {"domain": [2, 5], "nice": false, "zero": false}, "axis": {"values": [3, 4, 5], "title": null}},
           "y": {"field": "lo", "type": "quantitative", "scale": {"domain": [0, 25], "nice": false, "zero": false}, "axis": {"values": [5, 10, 15, 20], "labels": false, "title": null}},
           "y2": {"field": "hi"}}},
        {"data": {"name": "dots"}, "transform": [{"filter": "datum.m === '.2'"}],
         "mark": {"type": "square", "size": 3, "color": "#222", "opacity": 1},
         "encoding": {"x": {"field": "r", "type": "quantitative"}, "y": {"field": "lo", "type": "quantitative"}}},
        {"data": {"name": "labels"}, "transform": [{"filter": "datum.m === '.2'"}],
         "mark": {"type": "text", "align": "left", "baseline": "alphabetic", "fontStyle": "italic", "text": "m"},
         "encoding": {"x": {"datum": 2.1}, "y": {"datum": 22.6}}},
        {"data": {"name": "labels"}, "transform": [{"filter": "datum.m === '.2'"}],
         "mark": {"type": "text", "align": "left", "baseline": "alphabetic", "dx": 22},
         "encoding": {"x": {"datum": 2.1}, "y": {"datum": 22.6}, "text": {"field": "lab"}}}
      ]
    }
  ]
}
